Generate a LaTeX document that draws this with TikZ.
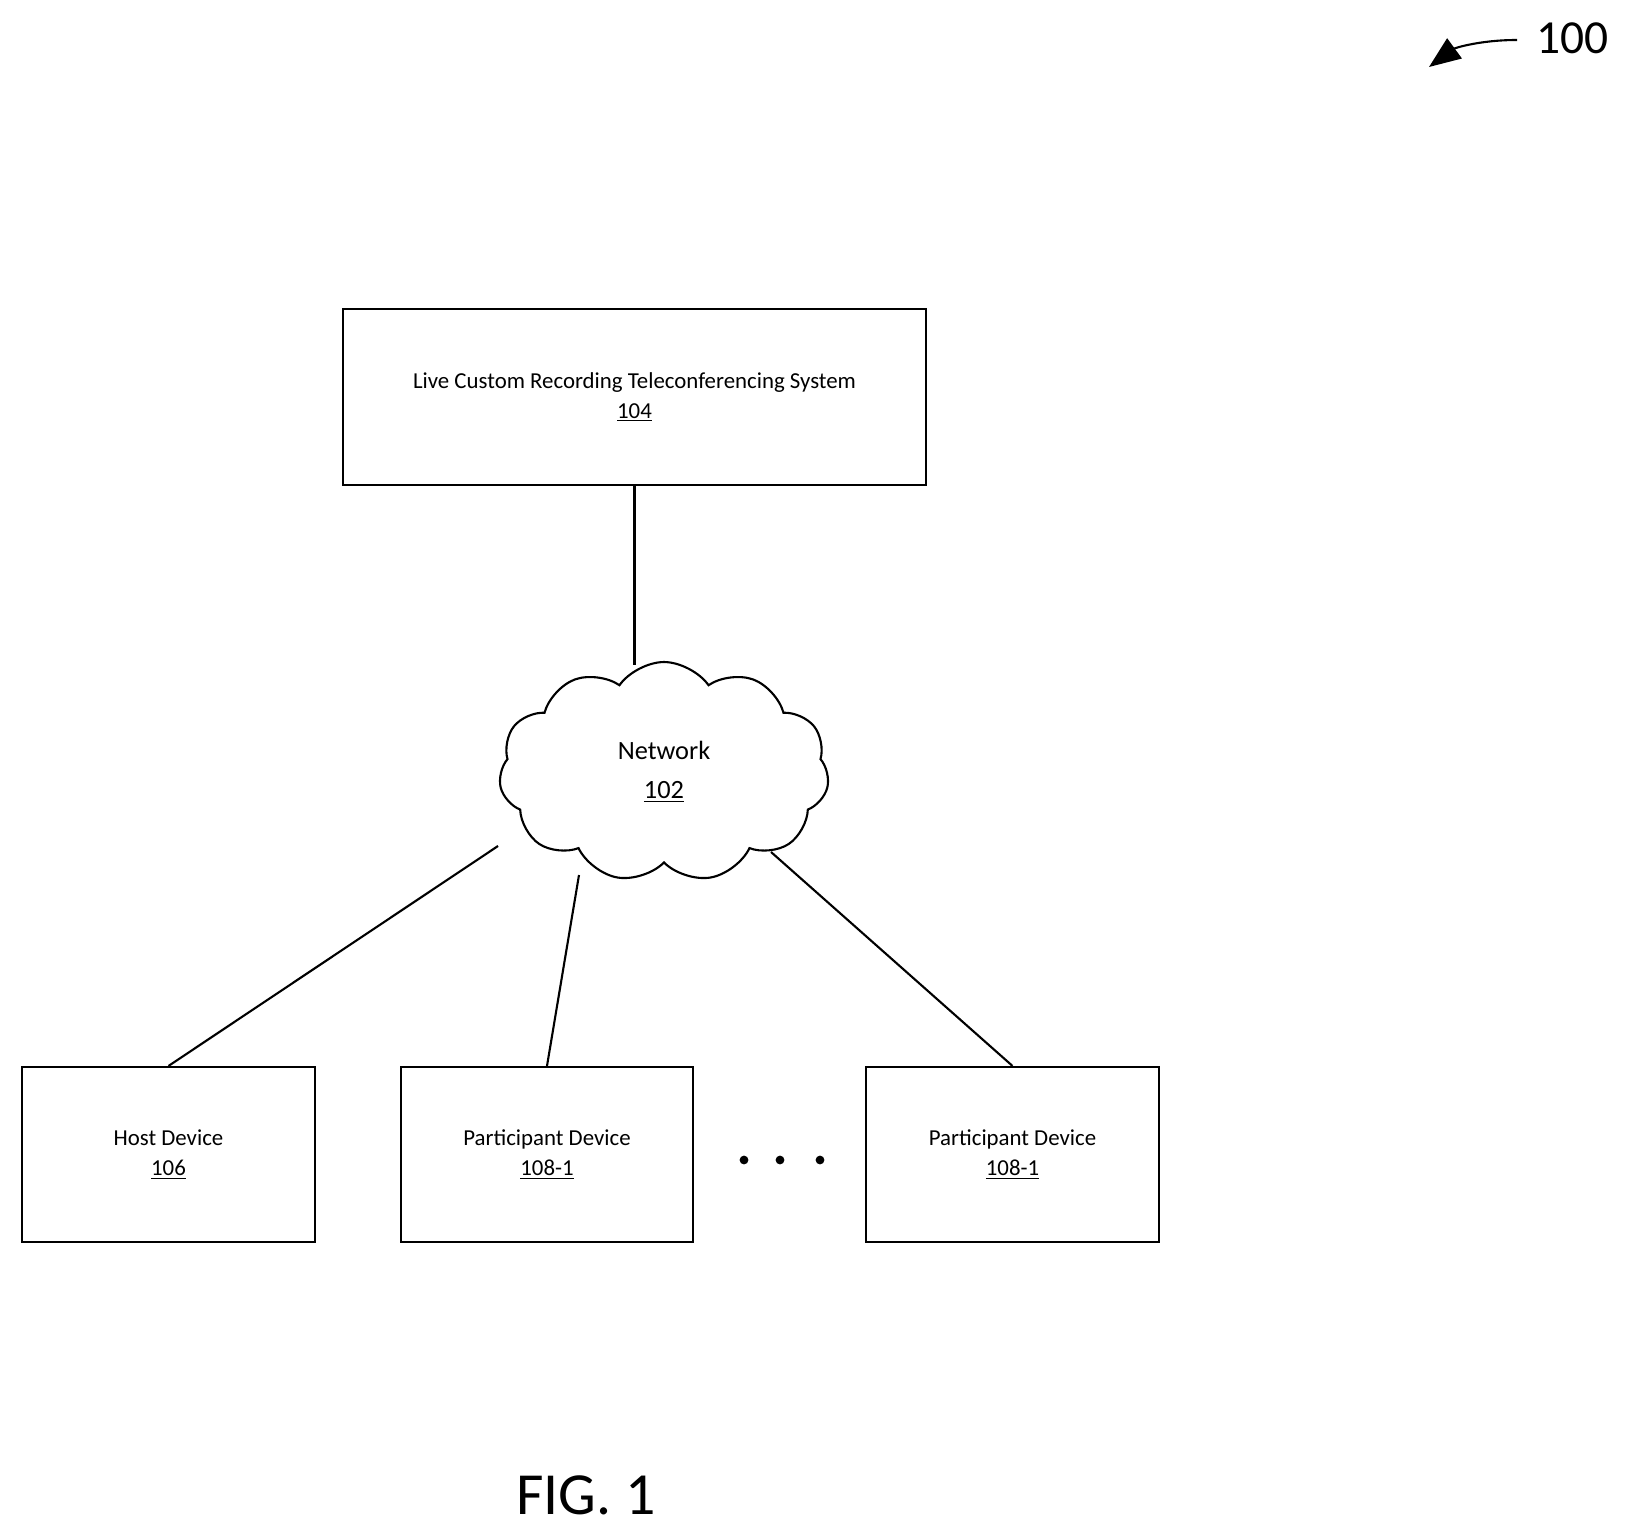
\documentclass[tikz,border=0pt]{standalone}
\usepackage{fontspec}
\setmainfont{Carlito}
\usetikzlibrary{shapes.symbols,arrows.meta}
\begin{document}
\begin{tikzpicture}[x=0.02cm,y=-0.02cm,
  box/.style={draw,line width=1.2pt,inner sep=0pt,font=\fontsize{13}{17}\selectfont,align=center},
  conn/.style={line width=1.2pt}]
\useasboundingbox (0,0) rectangle (1626,1527);
\node[box,minimum width=583*0.02cm,minimum height=176*0.02cm] (sys) at (634.5,397) {Live Custom Recording Teleconferencing System\\\underline{104}};
\node[draw,cloud,cloud puffs=11,cloud puff arc=110,aspect=1.5,line width=1.2pt,minimum width=6.6cm,minimum height=4.4cm,align=center,font=\fontsize{15}{22}\selectfont] (net) at (664,772) {Network\\\underline{102}};
\node[box,minimum width=293*0.02cm,minimum height=175*0.02cm] (host) at (168.5,1154.5) {Host Device\\\underline{106}};
\node[box,minimum width=292*0.02cm,minimum height=175*0.02cm] (p1) at (547,1154.5) {Participant Device\\\underline{108-1}};
\node[box,minimum width=293*0.02cm,minimum height=175*0.02cm] (p2) at (1012.5,1154.5) {Participant Device\\\underline{108-1}};
\coordinate (c1) at (498,846);
\coordinate (c2) at (579,875);
\coordinate (c3) at (771,852);
\coordinate (ct) at (634.5,665);
\draw[conn] (sys.south) -- (ct);
\draw[conn] (c1) -- (host.north);
\draw[conn] (c2) -- (p1.north);
\draw[conn] (c3) -- (p2.north);
\foreach \x/\n in {744/d1,780/d2,820/d3} \node[circle,fill,inner sep=0pt,minimum size=5pt] (\n) at (\x,1160) {};
\node[font=\fontsize{34}{40}\selectfont] (fig) at (586,1495) {FIG. 1};
\node[font=\fontsize{27}{32}\selectfont,anchor=west] (ref) at (1530,38) {100};
\coordinate (rs) at (1517,40);
\draw[line width=1.2pt,-{Triangle[width=14pt,length=18pt]}] (rs) .. controls (1480,40) and (1455,48) .. (1429,67);
\end{tikzpicture}
\end{document}
